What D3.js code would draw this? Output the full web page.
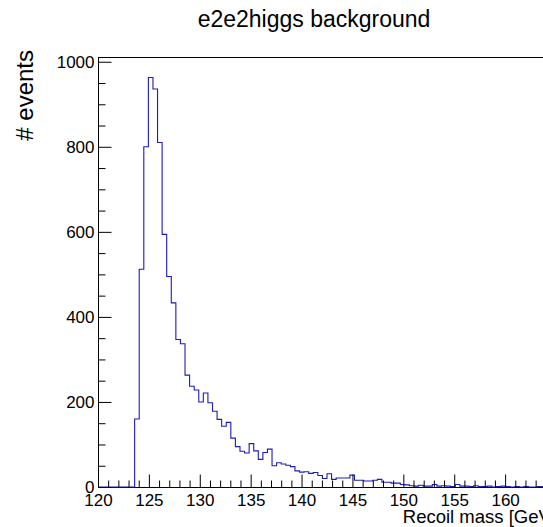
<!DOCTYPE html>
<html>
<head>
<meta charset="utf-8">
<script src="https://cdn.jsdelivr.net/npm/d3@7"></script>
<style>
  html, body { margin: 0; padding: 0; background: #fff; }
  svg { display: block; font-family: "Liberation Sans", Arial, Helvetica, sans-serif; }
</style>
</head>
<body>
<svg id="chart" width="543" height="527"></svg>
<script>
// Recoil-mass histogram: 100 bins of 0.45 GeV starting at 120 GeV
const binStart = 120;
const binWidth = 0.45;
const counts = [
  0, 0, 0, 0, 0, 0, 0, 0, 160, 512,
  800, 963, 936, 810, 594, 495, 433, 347, 337, 263,
  237, 228, 200, 221, 198, 178, 159, 143, 152, 115,
  95, 84, 80, 102, 85, 65, 81, 89, 50, 57,
  54, 51, 48, 38, 35, 36, 32, 34, 27, 20,
  31, 18, 21, 21, 21, 28, 16, 16, 14, 14,
  16, 18, 11, 11, 9, 9, 6, 5, 3, 2,
  4, 2, 2, 6, 2, 3, 2, 1, 6, 2,
  2, 1, 3, 1, 1, 2, 0, 1, 2, 1,
  0, 1, 0, 1, 0, 0, 1, 0, 0, 0
];
const xMajorTicks = [120, 125, 130, 135, 140, 145, 150, 155, 160];
const yMajorTicks = [0, 200, 400, 600, 800, 1000];
const titleText = "e2e2higgs background";
const xTitle = "Recoil mass [GeV]";
const yTitle = "# events";

const svg = d3.select("#chart");
const frame = { left: 98, top: 57, right: 556, bottom: 487 };

const xMax = binStart + binWidth * counts.length;
const yMax = d3.max(counts) * 1.05;

const x = d3.scaleLinear().domain([binStart, xMax]).range([frame.left, frame.right]);
const y = d3.scaleLinear().domain([0, yMax]).range([frame.bottom, frame.top]);

const xMinorTicks = d3.range(binStart, xMax + 1e-9, 1).filter(v => !xMajorTicks.includes(v));
const yMinorTicks = d3.range(0, yMax, 50).filter(v => !yMajorTicks.includes(v));

// Frame box
svg.append("rect")
  .attr("x", frame.left + 0.5).attr("y", frame.top + 0.5)
  .attr("width", frame.right - frame.left).attr("height", frame.bottom - frame.top)
  .attr("fill", "none").attr("stroke", "#000").attr("stroke-width", 1);

// Histogram outline as a step path
const edges = d3.range(counts.length + 1).map(i => binStart + i * binWidth);
const pts = [[edges[0], 0]];
counts.forEach((c, i) => { pts.push([edges[i], c]); pts.push([edges[i + 1], c]); });
pts.push([edges[edges.length - 1], 0]);
const line = d3.line().x(d => x(d[0])).y(d => y(d[1]));
svg.append("path")
  .attr("d", line(pts))
  .attr("fill", "none")
  .attr("stroke", "#1c1cb8")
  .attr("stroke-width", 1.1);

// X axis: inward ticks
const gx = svg.append("g").attr("transform", `translate(0,${frame.bottom + 0.5})`);
gx.call(d3.axisBottom(x).tickValues(xMajorTicks).tickSize(-13).tickSizeOuter(0).tickPadding(6).tickFormat(d3.format("d")));
const gxm = svg.append("g").attr("transform", `translate(0,${frame.bottom + 0.5})`);
gxm.call(d3.axisBottom(x).tickValues(xMinorTicks).tickSize(-7).tickSizeOuter(0).tickFormat(""));

// Y axis: inward ticks
const gy = svg.append("g").attr("transform", `translate(${frame.left + 0.5},0)`);
gy.call(d3.axisLeft(y).tickValues(yMajorTicks).tickSize(-13).tickSizeOuter(0).tickPadding(4).tickFormat(d3.format("d")));
const gym = svg.append("g").attr("transform", `translate(${frame.left + 0.5},0)`);
gym.call(d3.axisLeft(y).tickValues(yMinorTicks).tickSize(-7).tickSizeOuter(0).tickFormat(""));

[gx, gxm, gy, gym].forEach(g => {
  g.select(".domain").remove();
  g.selectAll("line").attr("stroke", "#000");
  g.selectAll("text").attr("fill", "#000").style("font-size", "17px").style("font-family", "Liberation Sans, Arial, sans-serif");
});

// Title
svg.append("text")
  .attr("x", 314).attr("y", 27)
  .attr("text-anchor", "middle")
  .style("font-size", "23px")
  .text(titleText);

// X axis title, right-aligned at the frame end
svg.append("text")
  .attr("x", frame.right).attr("y", 523)
  .attr("text-anchor", "end")
  .style("font-size", "18.5px")
  .text(xTitle);

// Y axis title, rotated, aligned to the top of the frame
svg.append("text")
  .attr("transform", `translate(33,${frame.top - 7}) rotate(-90)`)
  .attr("text-anchor", "end")
  .style("font-size", "24px")
  .text(yTitle);

// Secondary, partly hidden axis title behind the main one
svg.append("clipPath").attr("id", "ghostClip")
  .append("rect").attr("x", 43).attr("y", 50).attr("width", 9).attr("height", 80);
svg.append("text")
  .attr("clip-path", "url(#ghostClip)")
  .attr("transform", `translate(51,${frame.top}) rotate(-90)`)
  .attr("text-anchor", "end")
  .style("font-size", "17px")
  .attr("fill", "#333")
  .text(yTitle);
</script>
</body>
</html>
